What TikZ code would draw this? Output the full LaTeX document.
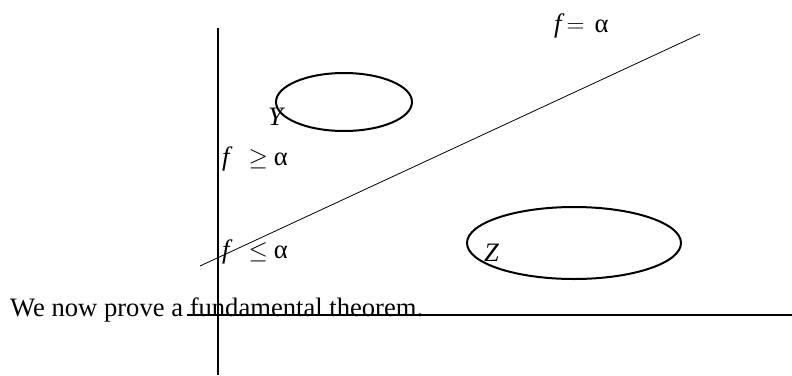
\documentclass[tikz,border=0pt]{standalone}
\usepackage{fontspec}
\setmainfont{Liberation Serif}
\usetikzlibrary{shapes.geometric}
\begin{document}
\begin{tikzpicture}[x=1pt,y=-1pt,
  lbl/.style={anchor=base west,inner sep=0pt,font=\fontsize{26.6}{30}\selectfont},
  axis/.style={line width=2pt},
  oval/.style={draw,ellipse,line width=2pt,inner sep=0pt}]
\useasboundingbox (0,0) rectangle (792,375);
% axes
\coordinate (vtop) at (218,28);
\coordinate (vbot) at (218,375);
\coordinate (hleft) at (187,315);
\coordinate (hright) at (792,315);
\draw[axis] (vtop) -- (vbot);
\draw[axis] (hleft) -- (hright);
% level line
\coordinate (la) at (200,266);
\coordinate (lb) at (700,34);
\draw[line width=0.8pt] (la) -- (lb);
% sets
\node[oval,minimum width=136pt,minimum height=58pt] (Yset) at (344,102) {};
\node[oval,minimum width=214pt,minimum height=72pt] (Zset) at (574,243) {};
% labels
\node[lbl] (Ylab) at (268,125) {\itshape Y};
\node[lbl] (Zlab) at (484,261) {\itshape Z};
\node[lbl] (geq) at (222,165) {\itshape f\upshape\hspace{19pt}$\geq$\hspace{6pt}α};
\node[lbl] (leq) at (222,258) {\itshape f\upshape\hspace{19pt}$\leq$\hspace{6pt}α};
\node[lbl] (eq) at (554,32) {\itshape f\upshape\hspace{5pt}$=$\hspace{10pt}α};
\node[lbl] (sent) at (10,316) {We now prove a fundamental theorem.};
\end{tikzpicture}
\end{document}
